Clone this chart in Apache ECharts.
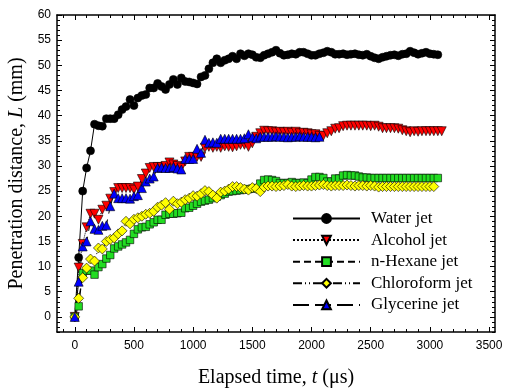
<!DOCTYPE html>
<html><head><meta charset="utf-8">
<script src="https://cdn.jsdelivr.net/npm/echarts@6/dist/echarts.min.js"></script>
<style>html,body{margin:0;padding:0;background:#fff}#c{width:511px;height:389px}</style>
</head><body><div id="c"></div>
<script>
// ---- data ----
const timeUs = [0,33,67,100,133,167,200,233,267,300,333,367,400,433,467,500,533,567,600,633,667,700,733,767,800,833,867,900,933,967,
  1000,1033,1067,1100,1133,1167,1200,1233,1267,1300,1333,1367,1400,1433,1467,1500,1533,1567,1600,1633,1667,1700,1733,1767,1800,1833,1867,1900,1933,1967,
  2000,2033,2067,2100,2133,2167,2200,2233,2267,2300,2333,2367,2400,2433,2467,2500,2533,2567,2600,2633,2667,2700,2733,2767,2800,2833,2867,2900,2933,2967,
  3000,3033,3067,3100];
const waterL = [0,11.8,25,29.6,33,38.3,38,37.9,39.4,39.4,39.4,40.2,41.2,41.8,43.2,42,43.5,44,44.2,45.5,45.5,46.4,45.8,45.2,46.2,47.2,46.2,47.5,46.8,46.7,
  46.5,46.3,47.7,48,49.3,50.5,51.3,50.5,51,51.3,51.8,51.3,52.3,51.9,52.3,52.1,51.6,51.5,52,52.3,52.6,53,52.4,52,52.1,52.3,52.2,52.6,52.6,52.3,
  52,52,52.3,52.5,52.8,52.6,52.2,52.2,52.3,52.1,52.2,52.3,52.1,52,52.2,51.8,51.5,51.3,51.6,51.8,52,52.1,51.9,52.2,52.3,52.8,52.5,52.2,52.4,52.6,
  52.3,52.2,52.1];
const alcoholL = [0,9.8,14.5,17.8,20.5,20.5,19.3,21.3,22.1,23.5,24.8,25.6,25.6,25.6,25.6,25.3,25.9,27.4,28.5,29.6,29.8,29.8,29.8,30,30.7,30.3,30,29.7,30.9,31.8,
  31.8,31.8,31.8,33.6,33.8,33.6,33.8,33.6,33.9,33.8,33.7,33.9,34.2,34.2,33.8,34.5,35.8,36.5,37,36.9,36.9,36.7,36.8,36.7,36.8,36.6,36.8,36.5,36.6,36.5,
  36.3,36.3,36,36,36.5,36.9,37.4,37.5,37.9,38,38,38,38,38,38,37.9,38,37.8,37.5,37.5,37.5,37.5,37.4,37.1,36.9,36.7,36.9,36.8,36.9,36.9,
  36.9,36.9,36.9,36.9];
const hexaneL = [0,2.1,8.7,9.2,9.2,8.4,9.9,10.5,11.6,12.3,13.6,14,14.4,14.8,15.3,16.5,17.4,17.8,17.9,18.4,18.8,19.3,19.3,20.3,20.5,20.5,20.6,20.7,21.6,21.7,
  22.1,22.5,22.9,23.1,23.3,23.6,23.9,24.2,24.5,24.9,25,25.1,25.2,25.3,25.4,25.5,25.6,26.5,27.2,27.3,27.2,27,26.6,26.6,26.6,26.8,26.6,26.6,26.7,26.6,
  27.3,27.8,27.8,27.6,26.9,26.9,27.5,27.5,28.1,28.2,28.1,28.1,27.9,27.7,27.7,27.6,27.6,27.6,27.6,27.6,27.6,27.6,27.6,27.6,27.6,27.6,27.6,27.6,27.6,27.6,
  27.6,27.6,27.6];
const chloroformL = [0,3.7,7.8,9.7,11.5,11.1,13.7,13.5,15,15.4,15.7,16.5,17.1,19,18.5,19.4,19.7,20,20.4,20.6,21,21.8,22.2,22.7,21.4,23,22.5,22.8,23.3,23.6,
  24.1,24,24.5,25.1,24.9,24.2,23.6,24.8,25,25.4,25.9,25.9,25.7,25.4,25.2,25.7,25.5,24.9,25.8,26,26,25.9,26,26.1,26.3,26,25.9,26,26.1,26,
  26,26.1,26.2,26.3,26.1,26,26.1,26.1,26.1,26.2,26.1,26,26.1,26.1,26,26.1,26,25.8,25.9,25.9,25.9,25.9,25.9,25.9,25.9,25.9,25.9,25.9,25.9,25.9,
  25.9,25.9];
const glycerineL = [0,7,14,15,19,17.5,17.3,18.1,18.2,22,24.5,23.6,23.6,23.6,23.5,24,24.2,25.6,26.9,27.5,27.9,29.6,29.7,29.6,29.6,29.8,29.5,29.3,31.4,31.4,
  31.4,33.4,32.6,35.2,34.6,34.7,34.6,35.4,35.4,35.4,35.4,35.4,35.4,35.5,36.3,35.7,35.5,35.8,35.8,35.8,35.8,35.9,35.8,35.8,35.7,35.8,35.8,35.9,35.8,35.8,
  35.8,35.7,35.8];
const seriesNames = ['Water jet','Alcohol jet','n-Hexane jet','Chloroform jet','Glycerine jet'];
const xTickValues = [0,500,1000,1500,2000,2500,3000,3500];
const yTickValues = [0,5,10,15,20,25,30,35,40,45,50,55,60];

// ---- chart ----
const X_MIN = -150, X_MAX = 3550, Y_MIN = -3, Y_MAX = 60;
const xMinor = []; for (let v = -100; v <= 3500; v += 100) if (v % 500 !== 0) xMinor.push(v);
const yMinor = []; for (let v = -3; v <= 60; v++) if (v % 5 !== 0) yMinor.push(v);
const pair = arr => arr.map((v, i) => [timeUs[i], v]);
const serif = 'Liberation Serif', sans = 'Liberation Sans';

function axis(kind, pos, ticks, len, showLabel, showLine, extra) {
  const isX = kind === 'x';
  return Object.assign({
    type: 'value', position: pos,
    min: isX ? X_MIN : Y_MIN, max: isX ? X_MAX : Y_MAX,
    axisLine: { show: showLine, onZero: false, lineStyle: { color: '#000', width: 1.5 } },
    axisTick: { show: true, inside: true, length: len, customValues: ticks, lineStyle: { color: '#000', width: 1 } },
    axisLabel: { show: showLabel, customValues: ticks, color: '#000', fontFamily: sans, fontSize: 12,
      margin: isX ? 8 : 6, formatter: v => String(v) },
    splitLine: { show: false }, minorTick: { show: false }
  }, extra || {});
}
const richT = {
  n: { fontFamily: serif, fontSize: 20, color: '#000' },
  i: { fontFamily: serif, fontSize: 20, color: '#000', fontStyle: 'italic' }
};

const xAxes = [
  axis('x', 'bottom', xTickValues, 5, true, true, {
    name: '{n|Elapsed time, }{i|t}{n| (μs)}', nameLocation: 'middle', nameGap: 36,
    nameTextStyle: { fontFamily: serif, fontSize: 20, color: '#000', rich: richT }
  }),
  axis('x', 'bottom', xMinor, 3, false, false),
  axis('x', 'top', xTickValues, 5, false, true),
  axis('x', 'top', xMinor, 3, false, false)
];
const yAxes = [
  axis('y', 'left', yTickValues, 5, true, true, {
    name: '{n|Penetration distance, }{i|L}{n| (mm)}', nameLocation: 'middle', nameGap: 30,
    nameTextStyle: { fontFamily: serif, fontSize: 20, color: '#000', rich: richT }
  }),
  axis('y', 'left', yMinor, 3, false, false),
  axis('y', 'right', yTickValues, 5, false, true),
  axis('y', 'right', yMinor, 3, false, false)
];

function ser(name, arr, symbol, size, color, lineType, rotate) {
  return {
    name, type: 'line', data: pair(arr), symbol, symbolSize: size, symbolRotate: rotate || 0,
    showAllSymbol: true, animation: false, xAxisIndex: 0, yAxisIndex: 0,
    itemStyle: { color, borderColor: '#000', borderWidth: 0.6 },
    lineStyle: { color: '#000', width: 1, type: lineType },
    emphasis: { disabled: true }
  };
}

const chart = echarts.init(document.getElementById('c'), null, { renderer: 'canvas' });
chart.setOption({
  backgroundColor: '#fff',
  animation: false,
  grid: { left: 57, right: 16, top: 15, bottom: 57, containLabel: false, outerBoundsMode: 'none' },
  xAxis: xAxes,
  yAxis: yAxes,
  legend: {
    orient: 'vertical', left: 287, top: 205, itemWidth: 67, itemHeight: 11, itemGap: 4.6,
    selectedMode: false, data: seriesNames,
    textStyle: { fontFamily: serif, fontSize: 17, color: '#000', padding: [0, 0, 0, 6] }
  },
  series: [
    ser(seriesNames[0], waterL, 'circle', 8, '#000000', 'solid'),
    ser(seriesNames[1], alcoholL, 'triangle', 9, '#ff0000', 'dotted', 180),
    ser(seriesNames[2], hexaneL, 'rect', 7.5, '#22dd22', [7, 4]),
    ser(seriesNames[3], chloroformL, 'diamond', 10, '#ffff00', [9, 3, 1, 3, 1, 3]),
    ser(seriesNames[4], glycerineL, 'triangle', 9, '#0000ff', [16, 6])
  ]
});
</script>
</body></html>
